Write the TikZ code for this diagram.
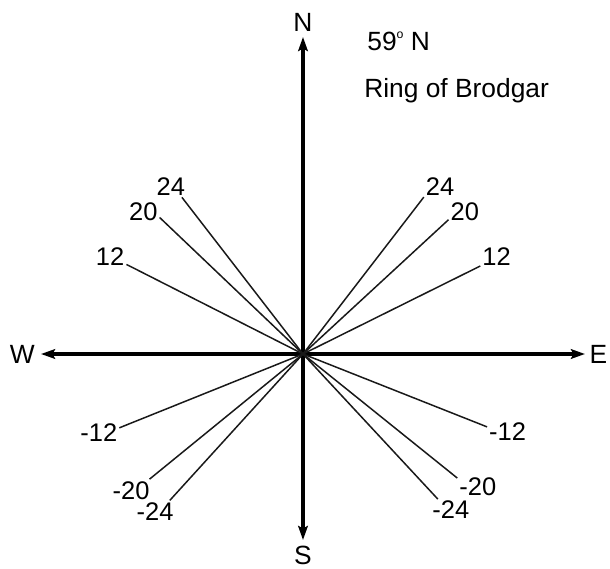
\documentclass[tikz,border=0pt]{standalone}
\usepackage{fontspec}
\setmainfont{Liberation Sans}
\usetikzlibrary{arrows.meta, positioning}
\definecolor{inkcolor}{RGB}{0,0,0}
\definecolor{raycolor}{RGB}{25,25,25}
\tikzset{
  axis/.style  = {-{Stealth[length=8pt, width=5.5pt, inset=1.5pt]},
                  line width=2pt, color=inkcolor},
  ray/.style   = {line width=0.85pt, color=raycolor},
  dir/.style   = {font=\fontsize{15}{18}\selectfont, inner sep=1pt},
  decl/.style  = {font=\fontsize{14.5}{17}\selectfont, inner sep=1pt},
  title/.style = {font=\fontsize{15}{18}\selectfont, inner sep=0pt, anchor=base west},
}
\newcommand{\degsign}{\raisebox{0.45em}{\fontsize{7}{7}\selectfont o}}

\begin{document}
\begin{tikzpicture}[x=0.02cm, y=0.02cm]
  \useasboundingbox (-303,-215) rectangle (307,354);
  \coordinate (O) at (0,0);
  % compass axes
  \coordinate (n) at (0,317);
  \coordinate (s) at (0,-186);
  \coordinate (w) at (-262,0);
  \coordinate (e) at (282,0);
  \draw[axis] (O) -- (n);
  \draw[axis] (O) -- (s);
  \draw[axis] (O) -- (w);
  \draw[axis] (O) -- (e);
  \node[dir, above=1.8pt] (N) at (n) {N};
  \node[dir, below=2.5pt] (S) at (s) {S};
  \node[dir, left=2.4pt] (W) at (w) {W};
  \node[dir, right=1.5pt] (E) at (e) {E};
  % rise and set directions
  \foreach \ang/\val/\anc [count=\k] in {
      52.4/24/212, 42.7/20/207, 26.4/12/211,
      -21.6/-12/166, -38.8/-20/156, -47.1/-24/140,
      127.7/24/315, 136.4/20/342, 153.1/12/335,
      201.9/-12/12, 219.2/-20/31, 227.7/-24/37} {
    \coordinate (r\k) at (\ang:198);
    \draw[ray] (O) -- (r\k);
    \node[decl, anchor=\anc] (d\k) at (r\k) {\val};
  }
  % heading
  \node[title] (lat) at (64,304) {59\degsign\ N};
  \node[title] (site) at (61,257) {Ring of Brodgar};
\end{tikzpicture}
\end{document}
